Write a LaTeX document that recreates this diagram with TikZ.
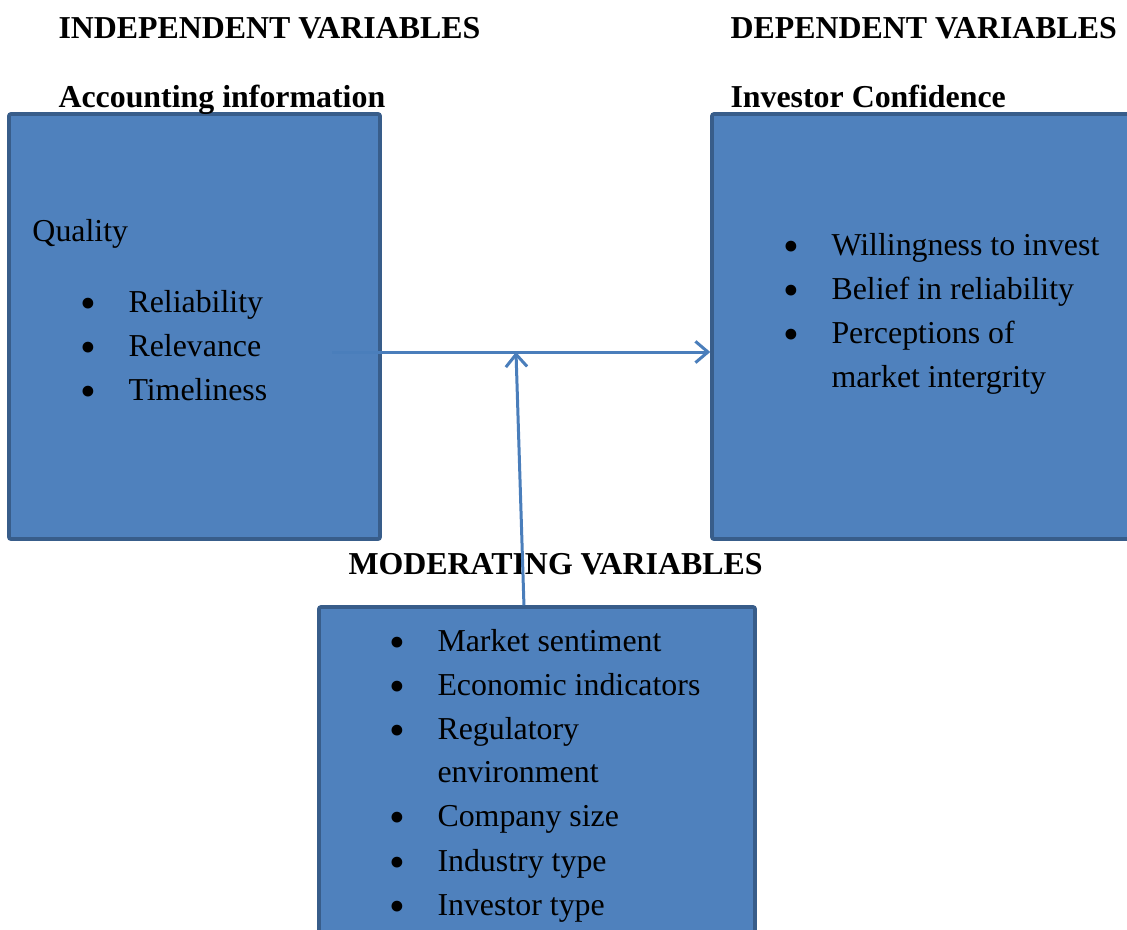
\documentclass[tikz,border=0pt]{standalone}
\usepackage{fontspec}
\setmainfont{Liberation Serif}
\usetikzlibrary{arrows.meta}
\definecolor{boxfill}{HTML}{4F81BD}
\definecolor{boxline}{HTML}{385D8A}
\definecolor{arrowcol}{HTML}{4A7EBB}
\tikzset{
  varbox/.style={draw=boxline, line width=1.5pt, fill=boxfill, rounded corners=0.8pt},
  head/.style={anchor=base west, inner sep=0pt, font=\bfseries\fontsize{12.75}{15}\selectfont},
  txt/.style={anchor=base west, inner sep=0pt, font=\fontsize{12.75}{15}\selectfont},
  bul/.style={anchor=base, inner sep=0pt, font=\fontsize{18}{18}\selectfont, yshift=-2.4pt},
  link/.style={draw=arrowcol, line width=1.2pt, -{Straight Barb[length=5pt,width=8.5pt,line width=1.2pt]}}
}
\begin{document}
\begin{tikzpicture}[x=0.4pt,y=-0.4pt]
\useasboundingbox (0,0) rectangle (1127,929);
\clip (0,0) rectangle (1127,929);
\fill[white] (0,0) rectangle (1127,929);
% boxes
\draw[varbox] (9,114) rectangle (380,539);
\draw[varbox] (712,114) rectangle (1140,539);
\node[inner sep=0pt] (dep) at (712,352) {};
\draw[varbox] (319,607) rectangle (755,945);
\node[inner sep=0pt] (mod) at (524,607) {};
% headings
\node[head] (h1) at (58,38) {INDEPENDENT VARIABLES};
\node[head] (h2) at (730,38) {DEPENDENT VARIABLES};
\node[head] (h3) at (58,107) {Accounting information};
\node[head] (h4) at (730,107) {Investor Confidence};
\node[head] (h5) at (348,574) {MODERATING VARIABLES};
% left box text
\node[txt] (q) at (32,241) {Quality};
\foreach \t [count=\i] in {Reliability,Relevance,Timeliness}{
  \node[bul] (lb\i) at (88,{268+44*\i}) {•};
  \node[txt] (lt\i) at (128,{268+44*\i}) {\t};
}
% right box text
\foreach \t [count=\i] in {Willingness to invest,Belief in reliability,Perceptions of}{
  \node[bul] (rb\i) at (791,{211+44*\i}) {•};
  \node[txt] (rt\i) at (831,{211+44*\i}) {\t};
}
\node[txt] (rt4) at (831,387) {market intergrity};
% bottom box text
\foreach \t/\y [count=\i] in {Market sentiment/651,Economic indicators/695,Regulatory/739,Company size/826,Industry type/871,Investor type/915}{
  \node[bul] (mb\i) at (397,\y) {•};
  \node[txt] (mt\i) at (437,\y) {\t};
}
\node[txt] (mt7) at (437,782) {environment};
% connectors
\coordinate (start) at (332,352);
\coordinate (meet) at (516,352);
\draw[link] (start) -- (dep);
\draw[link] (mod) -- (meet);
\end{tikzpicture}
\end{document}
